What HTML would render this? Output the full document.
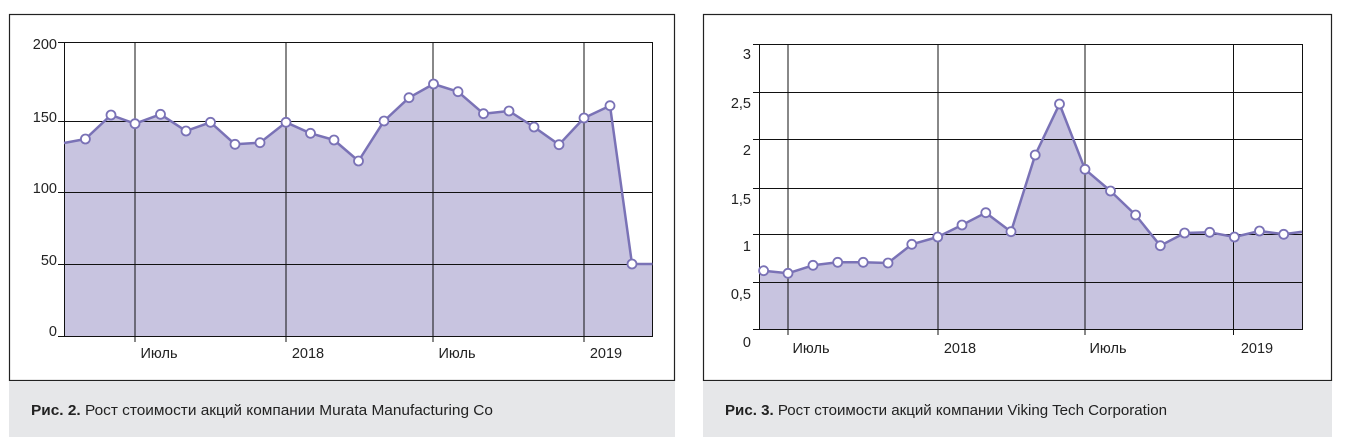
<!DOCTYPE html>
<html><head><meta charset="utf-8"><style>
body{margin:0;background:#fff;width:1347px;height:444px;overflow:hidden}
svg{display:block}
text{font-family:"Liberation Sans",sans-serif;font-size:14.5px;fill:#222}
.cap{font-family:"Liberation Sans Narrow","Liberation Sans",sans-serif;font-size:14.5px;fill:#222}
</style></head><body>
<svg width="1347" height="444" viewBox="0 0 1347 444">
<!-- panel 1 -->
<rect x="9.5" y="14.5" width="665" height="366" fill="#fff" stroke="#222" stroke-width="1.2"/>
<rect x="9" y="381" width="666" height="56" fill="#e6e7e9"/>
<text class="cap" x="31" y="415" textLength="462" lengthAdjust="spacingAndGlyphs"><tspan font-weight="bold">Рис. 2.</tspan> Рост стоимости акций компании Murata Manufacturing Co</text>
<polygon fill="#c8c4e0" points="64,336 64,143 85.4,139 111,115 135,123.7 160.5,114.3 186,131 210.5,122.3 235,144.3 260,142.7 286,122.3 310.5,133.3 334,140 358.5,161 384,121 409,97.7 433.5,84 458,91.7 483.5,113.7 509,111 534,127 559,144.7 584,118 610,105.7 632,264 652.5,264 652.5,336"/>
<g stroke="#111" stroke-width="1">
<line x1="58" y1="42.5" x2="652.5" y2="42.5"/><line x1="58" y1="121.5" x2="652.5" y2="121.5"/>
<line x1="58" y1="192.5" x2="652.5" y2="192.5"/><line x1="58" y1="264.5" x2="652.5" y2="264.5"/>
<line x1="58" y1="336.5" x2="652.5" y2="336.5"/>
<line x1="64.5" y1="42" x2="64.5" y2="337"/><line x1="652.5" y1="42" x2="652.5" y2="337"/>
<line x1="135" y1="42" x2="135" y2="342"/><line x1="286" y1="42" x2="286" y2="342"/>
<line x1="433" y1="42" x2="433" y2="342"/><line x1="584" y1="42" x2="584" y2="342"/>
</g>
<polyline fill="none" stroke="#7a72b6" stroke-width="2.5" stroke-linejoin="round" points="64,143 85.4,139 111,115 135,123.7 160.5,114.3 186,131 210.5,122.3 235,144.3 260,142.7 286,122.3 310.5,133.3 334,140 358.5,161 384,121 409,97.7 433.5,84 458,91.7 483.5,113.7 509,111 534,127 559,144.7 584,118 610,105.7 632,264 652.5,264"/>
<g fill="#fff" stroke="#7a72b6" stroke-width="1.8">
<circle cx="85.4" cy="139" r="4.5"/><circle cx="111" cy="115" r="4.5"/><circle cx="135" cy="123.7" r="4.5"/><circle cx="160.5" cy="114.3" r="4.5"/><circle cx="186" cy="131" r="4.5"/><circle cx="210.5" cy="122.3" r="4.5"/><circle cx="235" cy="144.3" r="4.5"/><circle cx="260" cy="142.7" r="4.5"/><circle cx="286" cy="122.3" r="4.5"/><circle cx="310.5" cy="133.3" r="4.5"/><circle cx="334" cy="140" r="4.5"/><circle cx="358.5" cy="161" r="4.5"/><circle cx="384" cy="121" r="4.5"/><circle cx="409" cy="97.7" r="4.5"/><circle cx="433.5" cy="84" r="4.5"/><circle cx="458" cy="91.7" r="4.5"/><circle cx="483.5" cy="113.7" r="4.5"/><circle cx="509" cy="111" r="4.5"/><circle cx="534" cy="127" r="4.5"/><circle cx="559" cy="144.7" r="4.5"/><circle cx="584" cy="118" r="4.5"/><circle cx="610" cy="105.7" r="4.5"/><circle cx="632" cy="264" r="4.5"/>
</g>
<g text-anchor="end">
<text x="57" y="49">200</text><text x="57" y="122">150</text><text x="57" y="193">100</text><text x="57" y="265">50</text><text x="57" y="336">0</text>
</g>
<g text-anchor="middle">
<text x="159" y="358">Июль</text><text x="308" y="358">2018</text><text x="457" y="358">Июль</text><text x="606" y="358">2019</text>
</g>

<!-- panel 2 -->
<rect x="703.5" y="14.5" width="628" height="366" fill="#fff" stroke="#222" stroke-width="1.2"/>
<rect x="703" y="381" width="629" height="56" fill="#e6e7e9"/>
<text class="cap" x="725" y="415" textLength="442" lengthAdjust="spacingAndGlyphs"><tspan font-weight="bold">Рис. 3.</tspan> Рост стоимости акций компании Viking Tech Corporation</text>
<polygon fill="#c8c4e0" points="759,329 759,270 763.6,270.7 788,273.3 813,265.3 837.7,262.3 863.2,262.3 888,263 911.8,244.3 937.7,237 962,225 985.8,212.7 1011,231.7 1035.2,155 1059.5,104 1085,169.3 1110.5,191 1135.6,215 1160.3,245.7 1184.6,233 1209.7,232.3 1234.4,237 1259.5,231 1283.7,234.3 1302,231.7 1302,329"/>
<g stroke="#111" stroke-width="1">
<line x1="753" y1="44.5" x2="1302" y2="44.5"/><line x1="753" y1="92.5" x2="1302" y2="92.5"/>
<line x1="753" y1="139.5" x2="1302" y2="139.5"/><line x1="753" y1="188.5" x2="1302" y2="188.5"/>
<line x1="753" y1="234.5" x2="1302" y2="234.5"/><line x1="753" y1="282.5" x2="1302" y2="282.5"/>
<line x1="753" y1="329.5" x2="1302" y2="329.5"/>
<line x1="759.5" y1="44" x2="759.5" y2="330"/><line x1="1302.5" y1="44" x2="1302.5" y2="330"/>
<line x1="788" y1="44" x2="788" y2="335"/><line x1="938" y1="44" x2="938" y2="335"/>
<line x1="1085" y1="44" x2="1085" y2="335"/><line x1="1233.5" y1="44" x2="1233.5" y2="335"/>
</g>
<polyline fill="none" stroke="#7a72b6" stroke-width="2.5" stroke-linejoin="round" points="759,270 763.6,270.7 788,273.3 813,265.3 837.7,262.3 863.2,262.3 888,263 911.8,244.3 937.7,237 962,225 985.8,212.7 1011,231.7 1035.2,155 1059.5,104 1085,169.3 1110.5,191 1135.6,215 1160.3,245.7 1184.6,233 1209.7,232.3 1234.4,237 1259.5,231 1283.7,234.3 1302,231.7"/>
<g fill="#fff" stroke="#7a72b6" stroke-width="1.8">
<circle cx="763.6" cy="270.7" r="4.5"/><circle cx="788" cy="273.3" r="4.5"/><circle cx="813" cy="265.3" r="4.5"/><circle cx="837.7" cy="262.3" r="4.5"/><circle cx="863.2" cy="262.3" r="4.5"/><circle cx="888" cy="263" r="4.5"/><circle cx="911.8" cy="244.3" r="4.5"/><circle cx="937.7" cy="237" r="4.5"/><circle cx="962" cy="225" r="4.5"/><circle cx="985.8" cy="212.7" r="4.5"/><circle cx="1011" cy="231.7" r="4.5"/><circle cx="1035.2" cy="155" r="4.5"/><circle cx="1059.5" cy="104" r="4.5"/><circle cx="1085" cy="169.3" r="4.5"/><circle cx="1110.5" cy="191" r="4.5"/><circle cx="1135.6" cy="215" r="4.5"/><circle cx="1160.3" cy="245.7" r="4.5"/><circle cx="1184.6" cy="233" r="4.5"/><circle cx="1209.7" cy="232.3" r="4.5"/><circle cx="1234.4" cy="237" r="4.5"/><circle cx="1259.5" cy="231" r="4.5"/><circle cx="1283.7" cy="234.3" r="4.5"/>
</g>
<g text-anchor="end">
<text x="751" y="59">3</text><text x="751" y="108">2,5</text><text x="751" y="155">2</text><text x="751" y="204">1,5</text><text x="751" y="251">1</text><text x="751" y="299">0,5</text><text x="751" y="347">0</text>
</g>
<g text-anchor="middle">
<text x="811" y="353">Июль</text><text x="960" y="353">2018</text><text x="1108" y="353">Июль</text><text x="1257" y="353">2019</text>
</g>
</svg>
</body></html>
